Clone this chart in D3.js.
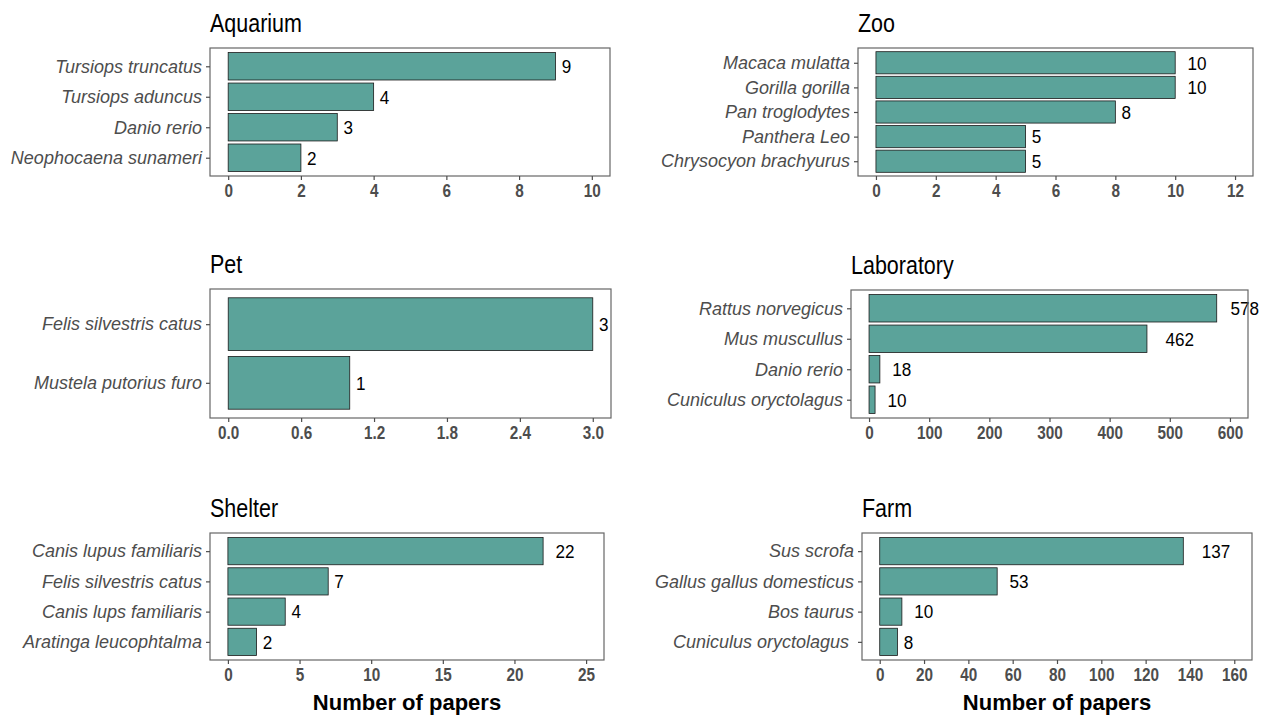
<!DOCTYPE html>
<html>
<head>
<meta charset="utf-8">
<script src="https://cdn.jsdelivr.net/npm/d3@7"></script>
<style>
  html, body { margin: 0; padding: 0; background: #fff; }
  svg { display: block; font-family: "Liberation Sans", Arial, sans-serif; }
</style>
</head>
<body>
<svg id="chart" width="1261" height="715"></svg>
<script>
// ---- data ----
const panelTitles = ["Aquarium", "Zoo", "Pet", "Laboratory", "Shelter", "Farm"];

const aquariumSpecies = ["Tursiops truncatus", "Tursiops aduncus", "Danio rerio", "Neophocaena sunameri"];
const aquariumCounts = [9, 4, 3, 2];

const zooSpecies = ["Macaca mulatta", "Gorilla gorilla", "Pan troglodytes", "Panthera Leo", "Chrysocyon brachyurus"];
const zooCounts = [10, 10, 8, 5, 5];

const petSpecies = ["Felis silvestris catus", "Mustela putorius furo"];
const petCounts = [3, 1];

const labSpecies = ["Rattus norvegicus", "Mus muscullus", "Danio rerio", "Cuniculus oryctolagus"];
const labCounts = [578, 462, 18, 10];

const shelterSpecies = ["Canis lupus familiaris", "Felis silvestris catus", "Canis lups familiaris", "Aratinga leucophtalma"];
const shelterCounts = [22, 7, 4, 2];

const farmSpecies = ["Sus scrofa", "Gallus gallus domesticus", "Bos taurus", "Cuniculus oryctolagus "];
const farmCounts = [137, 53, 10, 8];

const xLimits = [10, 12, 3, 600, 25, 160];
const aquariumTicks = [0, 2, 4, 6, 8, 10];
const zooTicks = [0, 2, 4, 6, 8, 10, 12];
const petTicks = [0, 0.6, 1.2, 1.8, 2.4, 3.0];
const labTicks = [0, 100, 200, 300, 400, 500, 600];
const shelterTicks = [0, 5, 10, 15, 20, 25];
const farmTicks = [0, 20, 40, 60, 80, 100, 120, 140, 160];
const tickFormats = [".0f", ".0f", ".1f", ".0f", ".0f", ".0f"];
const xAxisTitle = "Number of papers";

const speciesLists = [aquariumSpecies, zooSpecies, petSpecies, labSpecies, shelterSpecies, farmSpecies];
const countLists = [aquariumCounts, zooCounts, petCounts, labCounts, shelterCounts, farmCounts];
const tickLists = [aquariumTicks, zooTicks, petTicks, labTicks, shelterTicks, farmTicks];

// ---- layout (panel frames) ----
const W = 1261;
const frames = [
  { x0: 210, x1: 610, y0: 48, y1: 176 },
  { x0: 858, x1: 1253, y0: 48, y1: 176 },
  { x0: 210, x1: 611, y0: 289, y1: 418 },
  { x0: 851, x1: 1248, y0: 290, y1: 418 },
  { x0: 210, x1: 604, y0: 533, y1: 660 },
  { x0: 862, x1: 1252, y0: 533, y1: 660 }
];

const barFill = "#5ba39a";
const frameColor = "#666666";
const tickColor = "#4d4d4d";

const svg = d3.select("#chart");

function squeeze(sel, sx) {
  sel.each(function () {
    const t = d3.select(this);
    const x = +t.attr("x") || 0;
    t.attr("transform", `translate(${x},0) scale(${sx},1) translate(${-x},0)`);
  });
}

panelTitles.forEach((title, i) => {
  const f = frames[i];
  const species = speciesLists[i];
  const counts = countLists[i];
  const n = species.length;
  const lim = xLimits[i];

  const x = d3.scaleLinear().domain([-0.05 * lim, 1.05 * lim]).range([f.x0, f.x1]);
  // ggplot-like discrete axis: positions 1..n, expanded by 0.6
  const yPos = d3.scaleLinear().domain([0.4, n + 0.6]).range([f.y0, f.y1]);
  const bandH = yPos(1.9) - yPos(1.0);

  const g = svg.append("g");

  // title
  const tt = g.append("text")
    .attr("x", f.x0)
    .attr("y", f.y0 - 16)
    .attr("font-size", 25)
    .attr("fill", "#000")
    .text(title);
  squeeze(tt, 0.86);

  const rows = species.map((s, k) => ({ s, v: counts[k], k }));

  // bars
  g.selectAll("rect.bar")
    .data(rows)
    .enter().append("rect")
    .attr("class", "bar")
    .attr("x", x(0))
    .attr("y", d => yPos(d.k + 1) - bandH / 2)
    .attr("width", d => x(d.v) - x(0))
    .attr("height", bandH)
    .attr("fill", barFill)
    .attr("stroke", "#1a1a1a")
    .attr("stroke-width", 0.8);

  // value labels
  g.selectAll("text.val")
    .data(rows)
    .enter().append("text")
    .attr("class", "val")
    .attr("y", d => yPos(d.k + 1))
    .attr("dy", "0.36em")
    .attr("font-size", 19)
    .attr("fill", "#000")
    .text(d => d.v)
    .each(function (d) {
      const w = this.getComputedTextLength() * 0.9;
      const px = Math.min(x(d.v) + 0.65 * w, W - 2 - w);
      d3.select(this).attr("x", px);
    })
    .call(s => squeeze(s, 0.9));

  // frame
  g.append("rect")
    .attr("x", f.x0)
    .attr("y", f.y0)
    .attr("width", f.x1 - f.x0)
    .attr("height", f.y1 - f.y0)
    .attr("fill", "none")
    .attr("stroke", frameColor)
    .attr("stroke-width", 1.2);

  // x axis
  const fmt = d3.format(tickFormats[i]);
  const xAxis = d3.axisBottom(x).tickValues(tickLists[i]).tickFormat(fmt).tickSize(4).tickPadding(4);
  const xg = g.append("g").attr("transform", `translate(0,${f.y1})`).call(xAxis);
  xg.select(".domain").remove();
  xg.selectAll(".tick line").attr("stroke", tickColor).attr("stroke-width", 1.2);
  xg.selectAll(".tick text")
    .attr("fill", tickColor)
    .attr("font-size", 18)
    .attr("font-weight", "bold")
    .attr("font-family", "'Liberation Sans', Arial, sans-serif")
    .call(s => squeeze(s, 0.85));

  // y axis
  const yAxis = d3.axisLeft(yPos).tickValues(d3.range(1, n + 1)).tickFormat(k => species[k - 1]).tickSize(4).tickPadding(4);
  const yg = g.append("g").attr("transform", `translate(${f.x0},0)`).call(yAxis);
  yg.select(".domain").remove();
  yg.selectAll(".tick line").attr("stroke", tickColor).attr("stroke-width", 1.2);
  yg.selectAll(".tick text")
    .attr("fill", tickColor)
    .attr("font-size", 18)
    .attr("font-style", "italic")
    .style("white-space", "pre")
    .attr("font-family", "'Liberation Sans', Arial, sans-serif");

  // x axis title for bottom row
  if (i >= 4) {
    g.append("text")
      .attr("x", (f.x0 + f.x1) / 2)
      .attr("y", f.y1 + 50)
      .attr("text-anchor", "middle")
      .attr("font-size", 22)
      .attr("font-weight", "bold")
      .attr("fill", "#000")
      .text(xAxisTitle);
  }
});
</script>
</body>
</html>
